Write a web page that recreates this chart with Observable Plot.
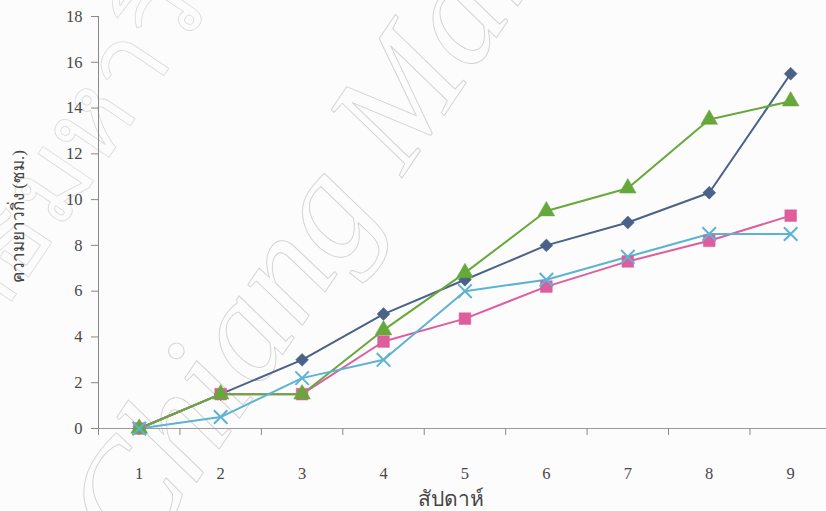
<!DOCTYPE html>
<html>
<head>
<meta charset="utf-8">
<script src="https://cdn.jsdelivr.net/npm/d3@7"></script>
<script src="https://cdn.jsdelivr.net/npm/@observablehq/plot@0.6"></script>
<style>
  html, body { margin: 0; padding: 0; background: #fcfcfc; }
  #chart svg { display: block; background: #fcfcfc; }
  #chart svg g[aria-label$="tick label"] {
    font-family: "Liberation Serif", "Times New Roman", serif !important;
    font-size: 16.5px !important;
  }
</style>
</head>
<body>
<div id="chart"></div>
<script>
// Branch length (cm) per week for four treatments
const weeks = [1, 2, 3, 4, 5, 6, 7, 8, 9];
const seriesA = [0, 1.5, 3.0, 5.0, 6.5, 8.0, 9.0, 10.3, 15.5];   // dark blue, diamond
const seriesB = [0, 1.5, 1.5, 3.8, 4.8, 6.2, 7.3, 8.2, 9.3];     // pink, square
const seriesC = [0, 1.5, 1.5, 4.3, 6.8, 9.5, 10.5, 13.5, 14.3];  // green, triangle
const seriesD = [0, 0.5, 2.2, 3.0, 6.0, 6.5, 7.5, 8.5, 8.5];     // light blue, cross
const yTicks = [0, 2, 4, 6, 8, 10, 12, 14, 16, 18];
const xLabel = "สัปดาห์";
const yLabel = "ความยาวกิ่ง (ซม.)";
const watermarkLatin = "Chiang Mai";
const watermarkThai = "ลิขสิทธิ์มหาวิทยาลัยเชียงใหม่";

const series = [
  {values: seriesA, color: "#4a6288", symbol: "diamond2", r: 5.8, filled: true},
  {values: seriesB, color: "#de5d9d", symbol: "square", r: 6.6, filled: true},
  {values: seriesC, color: "#67a83a", symbol: "triangle", r: 6.2, filled: true},
  {values: seriesD, color: "#5db3d2", symbol: "times", r: 6.2, filled: false}
];

// category boundaries where the x-axis ticks sit
const boundaries = d3.range(weeks.length + 1).map(i => weeks[0] - 0.5 + i);

const font = "'Liberation Serif', 'DejaVu Serif', serif";
const gray = "#484848";

const marks = [
  // faint outlined watermark behind the chart
  Plot.text([watermarkLatin], {
    frameAnchor: "top-left", dx: 40, dy: 552, rotate: -56,
    text: d => d, textAnchor: "start", lineAnchor: "bottom", fontSize: 148, fontStyle: "italic",
    fontFamily: font, fill: "none", stroke: "#d2d2d2", strokeWidth: 0.9
  }),
  Plot.text([watermarkThai], {
    frameAnchor: "top-left", dx: -235, dy: 505, rotate: -56,
    text: d => d, textAnchor: "start", lineAnchor: "bottom", fontSize: 110,
    fontFamily: font, fill: "none", stroke: "#dadada", strokeWidth: 0.8
  }),
  // axes
  Plot.ruleY([0], {stroke: "#9a9a9a", strokeWidth: 1}),
  Plot.ruleX([boundaries[0]], {stroke: "#888", strokeWidth: 1}),
  Plot.axisY({ticks: yTicks, tickSize: 7, tickPadding: 9,
    fill: gray, stroke: "#888", label: null}),
  Plot.axisX({ticks: boundaries, tickSize: 7, tickFormat: () => "", stroke: "#888", label: null}),
  Plot.axisX({ticks: weeks, tickSize: 0, tickPadding: 39,
    fill: gray, label: null}),
  Plot.text([xLabel], {frameAnchor: "bottom", dx: -12, dy: 77, lineAnchor: "bottom",
    textAnchor: "middle", text: d => d, fontSize: 21, fill: "#444"}),
  Plot.text([yLabel], {frameAnchor: "left", dx: -80, dy: -6, rotate: -90,
    textAnchor: "middle", text: d => d, fontSize: 17, fill: "#444"})
];

for (const s of series) {
  const rows = weeks.map((w, i) => ({week: w, value: s.values[i]}));
  marks.push(Plot.line(rows, {x: "week", y: "value", stroke: s.color, strokeWidth: 2}));
}
for (const s of series) {
  const rows = weeks.map((w, i) => ({week: w, value: s.values[i]}));
  marks.push(Plot.dot(rows, {
    x: "week", y: "value", symbol: () => s.symbol, r: s.r,
    fill: s.filled ? s.color : "none",
    stroke: s.color, strokeWidth: s.filled ? 0.5 : 2
  }));
}

const chart = Plot.plot({
  width: 826,
  height: 511,
  marginTop: 16,
  marginBottom: 83,
  marginLeft: 98,
  marginRight: 0,
  style: {background: "#fcfcfc", overflow: "visible", fontFamily: font, fontSize: "16px"},
  symbol: {type: "identity"},
  x: {type: "linear", domain: [weeks[0] - 0.5, weeks[weeks.length - 1] + 0.44], axis: null},
  y: {domain: [0, 18], axis: null},
  marks
});
document.getElementById("chart").appendChild(chart);
</script>
</body>
</html>
